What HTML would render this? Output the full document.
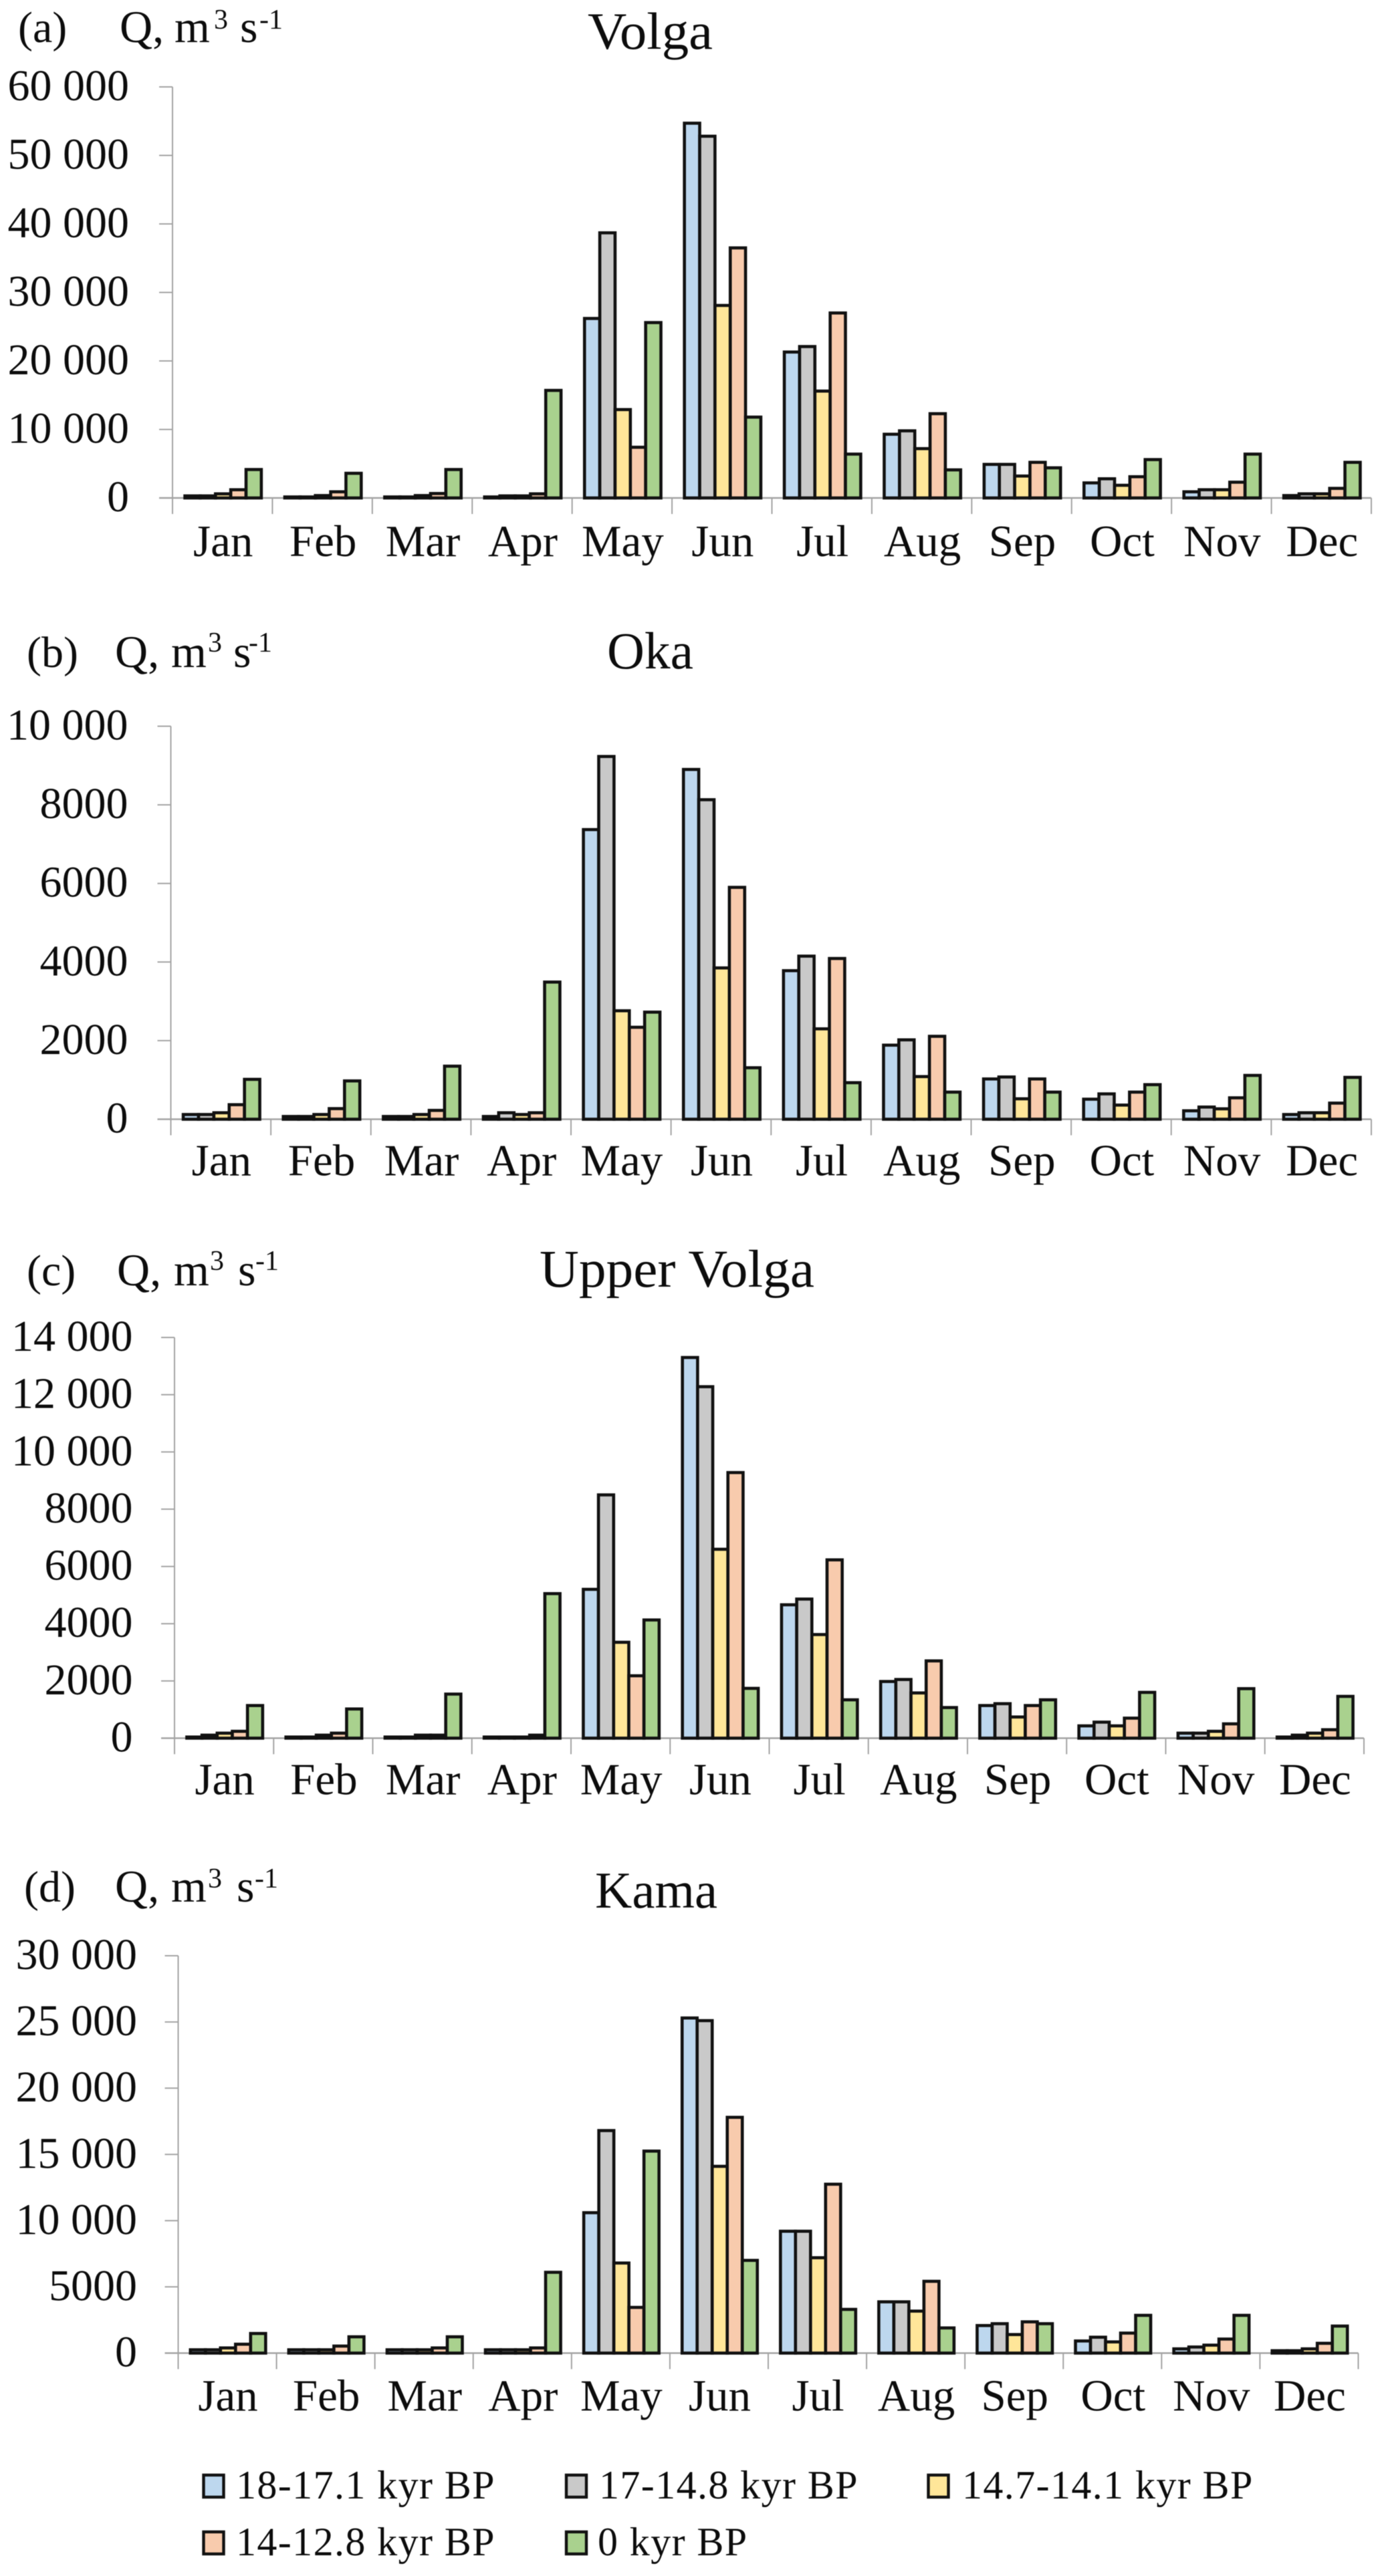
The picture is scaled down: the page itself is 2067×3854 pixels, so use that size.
<!DOCTYPE html>
<html lang="en">
<head>
<meta charset="utf-8">
<title>Monthly discharge: Volga, Oka, Upper Volga, Kama</title>
<style>
html,body{margin:0;padding:0;background:#fff;}
svg{display:block;filter:blur(0.6px);}
text{font-family:"Liberation Serif",serif;fill:#0c0c0c;}
</style>
</head>
<body>
<svg id="figure" xmlns="http://www.w3.org/2000/svg" width="2067" height="3854" viewBox="0 0 2067 3854">
<rect width="2067" height="3854" fill="#fff"/>

<g>
<text x="27" y="63" font-size="66">(a)</text>
<text font-size="68"><tspan x="179" y="63">Q,</tspan><tspan x="261" y="63">m</tspan><tspan x="320" y="43" font-size="42">3</tspan><tspan x="359" y="63">s</tspan><tspan x="388" y="43" font-size="42">-1</tspan></text>
<text x="879" y="73" font-size="78" textLength="187" lengthAdjust="spacingAndGlyphs">Volga</text>
</g>
<g>
<text x="40" y="998" font-size="66">(b)</text>
<text font-size="68"><tspan x="172" y="998">Q,</tspan><tspan x="256" y="998">m</tspan><tspan x="311" y="975" font-size="42">3</tspan><tspan x="349" y="998">s</tspan><tspan x="372" y="975" font-size="42">-1</tspan></text>
<text x="908" y="1000" font-size="78" textLength="129" lengthAdjust="spacingAndGlyphs">Oka</text>
</g>
<g>
<text x="40" y="1923" font-size="66">(c)</text>
<text font-size="68"><tspan x="175" y="1923">Q,</tspan><tspan x="260" y="1923">m</tspan><tspan x="314" y="1900" font-size="42">3</tspan><tspan x="356" y="1923">s</tspan><tspan x="382" y="1900" font-size="42">-1</tspan></text>
<text x="807" y="1925" font-size="79" textLength="411" lengthAdjust="spacingAndGlyphs">Upper Volga</text>
</g>
<g>
<text x="36" y="2845" font-size="66">(d)</text>
<text font-size="68"><tspan x="172" y="2845">Q,</tspan><tspan x="256" y="2845">m</tspan><tspan x="311" y="2824" font-size="42">3</tspan><tspan x="354" y="2845">s</tspan><tspan x="381" y="2824" font-size="42">-1</tspan></text>
<text x="890" y="2854" font-size="77" textLength="183" lengthAdjust="spacingAndGlyphs">Kama</text>
</g>

<g font-size="60">
<g>
<rect x="304.5" y="3703" width="30" height="33" fill="#BDD7EE" stroke="#111" stroke-width="4.4"/>
<text x="353" y="3738" font-size="60" letter-spacing="1.4">18-17.1 kyr BP</text>
</g>
<g>
<rect x="847" y="3703" width="30" height="33" fill="#C9C9C9" stroke="#111" stroke-width="4.4"/>
<text x="896" y="3738" font-size="60" letter-spacing="1.4">17-14.8 kyr BP</text>
</g>
<g>
<rect x="1388.5" y="3703" width="30" height="33" fill="#FFE699" stroke="#111" stroke-width="4.4"/>
<text x="1439" y="3738" font-size="60" letter-spacing="1.4">14.7-14.1 kyr BP</text>
</g>
<g>
<rect x="304.5" y="3788" width="30" height="33" fill="#F8CBAD" stroke="#111" stroke-width="4.4"/>
<text x="353" y="3823" font-size="60" letter-spacing="1.4">14-12.8 kyr BP</text>
</g>
<g>
<rect x="847" y="3788" width="30" height="33" fill="#A9D18E" stroke="#111" stroke-width="4.4"/>
<text x="894" y="3823" font-size="60" letter-spacing="1.4">0 kyr BP</text>
</g>
</g>
</svg>

<script>
const months = ['Jan','Feb','Mar','Apr','May','Jun','Jul','Aug','Sep','Oct','Nov','Dec'];
const seriesNames = ['18-17.1 kyr BP','17-14.8 kyr BP','14.7-14.1 kyr BP','14-12.8 kyr BP','0 kyr BP'];

const volgaTickValues = [0,10000,20000,30000,40000,50000,60000];
const volgaTickLabels = ['0','10 000','20 000','30 000','40 000','50 000','60 000'];
const volga18 = [300,150,150,150,26200,54700,21300,9300,4900,2200,900,350];
const volga17 = [300,150,150,300,38700,52800,22100,9800,4900,2800,1200,600];
const volga147 = [600,350,350,300,12900,28100,15600,7200,3200,1850,1200,600];
const volga14 = [1200,900,650,600,7400,36500,27000,12300,5200,3100,2300,1400];
const volga0 = [4150,3600,4150,15700,25600,11800,6400,4100,4400,5600,6400,5200];

const okaTickValues = [0,2000,4000,6000,8000,10000];
const okaTickLabels = ['0','2000','4000','6000','8000','10 000'];
const oka18 = [120,70,70,70,7370,8900,3780,1885,1025,510,215,120];
const oka17 = [120,70,70,165,9230,8130,4150,2020,1075,645,310,165];
const oka147 = [165,120,120,120,2760,3850,2300,1085,520,360,265,165];
const oka14 = [370,270,225,165,2340,5900,4090,2110,1025,690,545,410];
const oka0 = [1015,975,1350,3490,2725,1310,930,690,690,880,1115,1065];

const upperTickValues = [0,2000,4000,6000,8000,10000,12000,14000];
const upperTickLabels = ['0','2000','4000','6000','8000','10 000','12 000','14 000'];
const upper18 = [40,40,40,40,5200,13300,4660,1980,1140,430,175,40];
const upper17 = [105,40,40,40,8500,12280,4860,2050,1205,560,175,105];
const upper147 = [175,105,105,40,3350,6600,3620,1580,740,430,240,175];
const upper14 = [240,175,105,105,2180,9280,6230,2700,1140,700,500,295];
const upper0 = [1140,1020,1540,5050,4130,1740,1340,1070,1340,1600,1730,1460];

const kamaTickValues = [0,5000,10000,15000,20000,25000,30000];
const kamaTickLabels = ['0','5000','10 000','15 000','20 000','25 000','30 000'];
const kama18 = [250,250,250,250,10600,25300,9200,3870,2080,915,320,180];
const kama17 = [250,250,250,250,16800,25100,9200,3870,2220,1200,460,180];
const kama147 = [390,250,250,250,6800,14100,7200,3170,1400,845,600,320];
const kama14 = [670,530,390,390,3450,17800,12750,5420,2360,1510,1060,740];
const kama0 = [1480,1230,1230,6100,15250,7000,3300,1900,2220,2850,2850,2040];

const seriesColors = ['#BDD7EE','#C9C9C9','#FFE699','#F8CBAD','#A9D18E'];
const seriesKeys = ['18-17-kyr','17-14-kyr','14-7-kyr','14-12-kyr','0-kyr'];

const SVG_NS = 'http://www.w3.org/2000/svg';
const figure = document.getElementById('figure');

function make(parent, tag, attrs) {
  const el = document.createElementNS(SVG_NS, tag);
  Object.keys(attrs).forEach(function (k) { el.setAttribute(k, attrs[k]); });
  parent.appendChild(el);
  return el;
}

function drawPanel(p) {
  const group = make(figure, 'g', {});
  
  

  const maxValue = p.tickValues[p.tickValues.length - 1];
  const yScale = function (v) { return p.bottom - (v / maxValue) * (p.bottom - p.top); };
  const catWidth = (p.right - p.left) / months.length;
  const xCat = function (i) { return p.left + i * catWidth; };
  const barWidth = catWidth * 0.153;
  const startOffset = (catWidth - barWidth * p.series.length) / 2 + 1;
  const xBar = function (i, s) { return xCat(i) + startOffset + s * barWidth; };

  const xAxis = make(group, 'line', { x1: p.left - 20, x2: p.right, y1: p.bottom, y2: p.bottom, stroke: '#a3a3a3', 'stroke-width': 2.4 });
  
  

  const yAxis = make(group, 'line', { x1: p.left, x2: p.left, y1: p.top, y2: p.bottom + 24, stroke: '#a3a3a3', 'stroke-width': 2 });
  
  

  p.tickValues.forEach(function (v, i) {
    const y = yScale(v);
    const tick = make(group, 'line', { x1: p.left - 20, x2: p.left, y1: y, y2: y, stroke: '#a3a3a3', 'stroke-width': 2 });
    
    
    const label = make(group, 'text', { x: p.labelRight, y: y + 20, 'font-size': 66, 'text-anchor': 'end' });
    label.textContent = p.tickLabels[i];
    
    
  });

  for (let i = 0; i <= months.length; i++) {
    const tick = make(group, 'line', { x1: xCat(i), x2: xCat(i), y1: p.bottom, y2: p.bottom + 24, stroke: '#a3a3a3', 'stroke-width': 2 });
    
    
  }

  p.series.forEach(function (values, s) {
    values.forEach(function (v, i) {
      const bar = make(group, 'rect', {
        x: xBar(i, s),
        y: yScale(v),
        width: barWidth,
        height: p.bottom - yScale(v),
        fill: seriesColors[s],
        stroke: '#111',
        'stroke-width': 4.6,
        'stroke-linejoin': 'miter'
      });
      
      
    });
  });

  months.forEach(function (m, i) {
    const label = make(group, 'text', { x: xCat(i) + catWidth / 2 + 1, y: p.bottom + p.monthOffset, 'font-size': 67, 'text-anchor': 'middle' });
    label.textContent = m;
    
    
  });
}

drawPanel({ key: 'volga', left: 258, right: 2051, top: 130, bottom: 745, labelRight: 193, monthOffset: 87,
  tickValues: volgaTickValues, tickLabels: volgaTickLabels, series: [volga18, volga17, volga147, volga14, volga0] });
drawPanel({ key: 'oka', left: 255.5, right: 2051, top: 1086.5, bottom: 1674.5, labelRight: 191.5, monthOffset: 84,
  tickValues: okaTickValues, tickLabels: okaTickLabels, series: [oka18, oka17, oka147, oka14, oka0] });
drawPanel({ key: 'upper-volga', left: 261, right: 2040, top: 2001, bottom: 2600.5, labelRight: 198.5, monthOffset: 84,
  tickValues: upperTickValues, tickLabels: upperTickLabels, series: [upper18, upper17, upper147, upper14, upper0] });
drawPanel({ key: 'kama', left: 266.5, right: 2031.5, top: 2926, bottom: 3520.5, labelRight: 205, monthOffset: 86,
  tickValues: kamaTickValues, tickLabels: kamaTickLabels, series: [kama18, kama17, kama147, kama14, kama0] });
</script>
</body>
</html>
